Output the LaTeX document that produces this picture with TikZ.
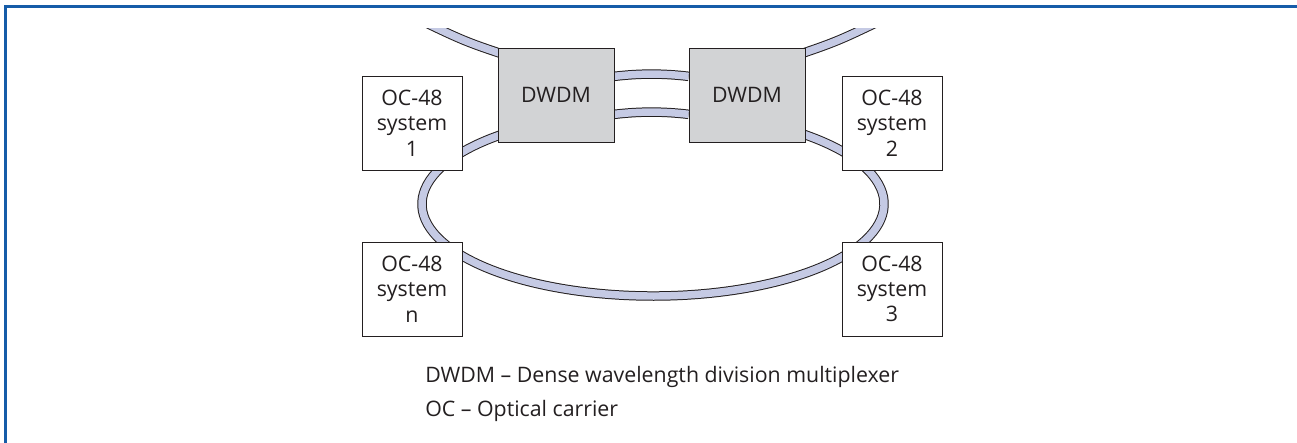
\documentclass[tikz,border=0pt]{standalone}
\usepackage{fontspec}
\setmainfont{Open Sans}
\usetikzlibrary{positioning,backgrounds}

\definecolor{frameblue}{RGB}{22,92,168}
\definecolor{fibrefill}{RGB}{197,202,228}
\definecolor{muxgrey}{RGB}{210,211,213}
\definecolor{inkgrey}{RGB}{35,31,32}

\tikzset{
  ocbox/.style={draw=inkgrey, line width=0.75pt, fill=white, text=inkgrey,
    minimum width=75pt, minimum height=70.5pt, inner sep=0pt, align=center,
    font=\fontsize{16}{19}\selectfont},
  muxbox/.style={ocbox, fill=muxgrey, minimum width=87pt},
  fibre/.style={draw=inkgrey, line width=0.75pt, double=fibrefill, double distance=5.6pt},
  keyline/.style={inner sep=0pt, text=inkgrey, font=\fontsize{16}{19}\selectfont}
}

\begin{document}
\begin{tikzpicture}[x=0.75pt, y=-0.75pt]
\useasboundingbox (0,0) rectangle (1297,443);
% frame
\draw[frameblue, line width=2.25pt] (5,443) -- (5,6) -- (1297,6);

% multiplexers
\node[muxbox] (mux1) at (556,95) {DWDM};
\node[muxbox, right=55.5pt of mux1] (mux2) {DWDM};

% OC-48 systems
\node[ocbox] (sys1) at (412,123) {OC-48\\system\\1};
\node[ocbox] (sys2) at (892,123) {OC-48\\system\\2};
\node[ocbox] (sysn) at (412,289) {OC-48\\system\\n};
\node[ocbox] (sys3) at (892,289) {OC-48\\system\\3};

% fibres
\coordinate (ring) at (653,204);
\coordinate (outL) at (420,20);
\coordinate (outR) at (882,20);
\begin{scope}[on background layer]
\draw[fibre] (ring) ++(240:231 and 92) arc[start angle=240, end angle=-60, x radius=231, y radius=92];
\draw[fibre] ([yshift=14pt]mux1.east) .. controls +(25,-3) and +(-25,-3) .. ([yshift=14pt]mux2.west);
\draw[fibre] ([yshift=-14.5pt]mux1.east) .. controls +(25,-3) and +(-25,-3) .. ([yshift=-14.5pt]mux2.west);
\clip (0,28) rectangle (1297,443);
\draw[fibre] (outL) .. controls (466,42) .. ([xshift=16pt, yshift=-9pt]mux1.north west);
\draw[fibre] (outR) .. controls (836,42) .. ([xshift=-16pt, yshift=-9pt]mux2.north east);
\end{scope}

% key
\node[keyline, anchor=base west] (keymux) at (425,382) {DWDM – Dense wavelength division multiplexer};
\node[keyline, below=26pt of keymux.base west, anchor=base west] (keyoc) {OC – Optical carrier};
\end{tikzpicture}
\end{document}
